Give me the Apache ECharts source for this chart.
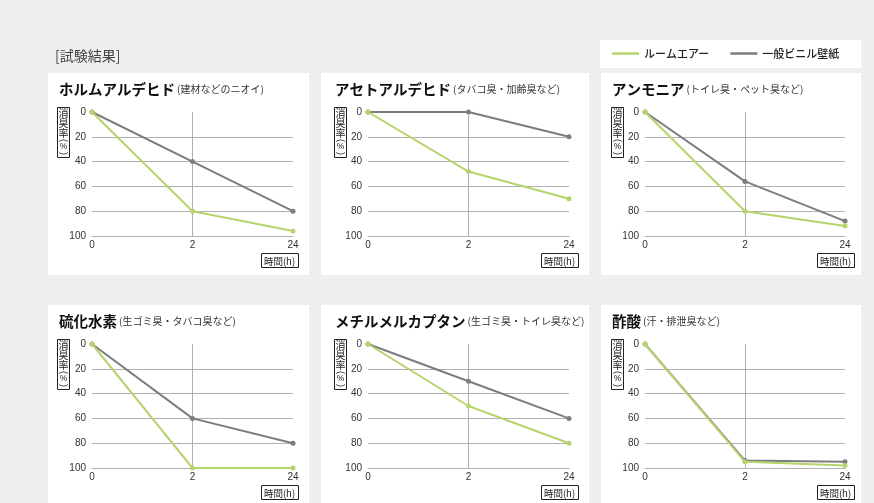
<!DOCTYPE html>
<html>
<head>
<meta charset="utf-8">
<script src="https://cdn.jsdelivr.net/npm/echarts@6/dist/echarts.min.js"></script>
<style>
html,body{margin:0;padding:0;background:#efefef;}
#c{width:874px;height:503px;}
</style>
</head>
<body>
<div id="c"></div>
<script>
// ---- data ----
const categories = ['0', '2', '24'];
const titles = ['ホルムアルデヒド', 'アセトアルデヒド', 'アンモニア', '硫化水素', 'メチルメルカプタン', '酢酸'];
const subtitles = ['(建材などのニオイ)', '(タバコ臭・加齢臭など)', '(トイレ臭・ペット臭など)', '(生ゴミ臭・タバコ臭など)', '(生ゴミ臭・トイレ臭など)', '(汗・排泄臭など)'];
const roomAir = [[0, 80, 96], [0, 48, 70], [0, 80, 92], [0, 100, 100], [0, 50, 80], [0, 95, 98]];
const vinyl = [[0, 40, 80], [0, 0, 20], [0, 56, 88], [0, 60, 80], [0, 30, 60], [0, 94, 95]];
const seriesNames = ['ルームエアー', '一般ビニル壁紙'];
const yMin = 0, yMax = 100, yStep = 20;
const yAxisNameMain = '消臭率';
const yAxisNameUnit = ['(', '%', ')'];
const xAxisName = '時間(h)';
const heading = '[試験結果]';

// ---- layout ----
const cols = [
  {pl: 48, pr: 309, gl: 92, gr: 293, tx: 59, ybx: 57, xbr: 298},
  {pl: 321, pr: 589, gl: 368, gr: 569, tx: 335, ybx: 334, xbr: 578},
  {pl: 601, pr: 861, gl: 645, gr: 845, tx: 612, ybx: 611, xbr: 854}
];
const rows = [{pt: 73, pb: 275}, {pt: 305, pb: 530}];
const GREEN = '#b6d46c', GRAY = '#7d7d7d', GRID = '#b0b0b0';
const FONT = '"Liberation Sans", "Noto Sans CJK JP", sans-serif';
const JFONT = '"Noto Sans CJK JP", sans-serif';

const grids = [], xAxes = [], yAxes = [], series = [], graphics = [];

// heading + legend box
graphics.push({type: 'text', left: 55, top: 49, z: 5,
  style: {text: heading, font: '14px ' + JFONT, fill: '#444'}});
graphics.push({type: 'rect', z: -1, shape: {x: 600, y: 40, width: 261, height: 28}, style: {fill: '#fff'}});

for (let i = 0; i < 6; i++) {
  const c = cols[i % 3], r = rows[Math.floor(i / 3)];
  graphics.push({type: 'rect', z: -1, shape: {x: c.pl, y: r.pt, width: c.pr - c.pl, height: r.pb - r.pt}, style: {fill: '#fff'}});
  graphics.push({type: 'text', z: 5, x: c.tx, y: r.pt + 16,
    style: {text: '{a|' + titles[i] + '}{b|' + subtitles[i] + '}', verticalAlign: 'middle',
      rich: {a: {fontSize: 14.5, fontWeight: 'bold', fontFamily: JFONT, fill: '#111'},
             b: {fontSize: 10, fontFamily: JFONT, fill: '#333', padding: [0, 0, 0, 2]}}}});
  // y axis name box
  const bx = c.ybx + 6.5;
  graphics.push({type: 'rect', z: 5, shape: {x: c.ybx + 0.5, y: r.pt + 34.5, width: 12, height: 50},
    style: {fill: '#fff', stroke: '#222', lineWidth: 1}});
  graphics.push({type: 'text', z: 6, x: bx, y: r.pt + 35,
    style: {text: yAxisNameMain.split('').join('\n'), align: 'center', verticalAlign: 'top',
      font: '10px ' + JFONT, lineHeight: 10, fill: '#222'}});
  graphics.push({type: 'text', z: 6, x: bx, y: r.pt + 67.5, rotation: -Math.PI / 2,
    style: {text: yAxisNameUnit[0], align: 'center', verticalAlign: 'middle', font: '9px ' + FONT, fill: '#222'}});
  graphics.push({type: 'text', z: 6, x: bx, y: r.pt + 74,
    style: {text: yAxisNameUnit[1], align: 'center', verticalAlign: 'middle', font: '8.5px ' + FONT, fill: '#222'}});
  graphics.push({type: 'text', z: 6, x: bx, y: r.pt + 80.5, rotation: -Math.PI / 2,
    style: {text: yAxisNameUnit[2], align: 'center', verticalAlign: 'middle', font: '9px ' + FONT, fill: '#222'}});
  // x axis name box
  graphics.push({type: 'rect', z: 5, shape: {x: c.xbr - 37 + 0.5, y: r.pt + 180.5, width: 37, height: 14},
    style: {fill: '#fff', stroke: '#222', lineWidth: 1}});
  graphics.push({type: 'text', z: 6, x: c.xbr - 18.5, y: r.pt + 188,
    style: {text: xAxisName, align: 'center', verticalAlign: 'middle', font: '9.5px ' + JFONT, fill: '#222'}});

  grids.push({left: c.gl, width: c.gr - c.gl, top: r.pt + 39, height: 124});
  xAxes.push({gridIndex: i, type: 'category', data: categories, boundaryGap: false,
    axisLine: {show: true, onZero: false, lineStyle: {color: GRID, width: 1}},
    axisTick: {show: false},
    axisLabel: {margin: 4, fontSize: 10, color: '#333', fontFamily: FONT},
    splitLine: {show: true, interval: (idx) => idx === 1, lineStyle: {color: GRID, width: 1}}});
  yAxes.push({gridIndex: i, type: 'value', inverse: true, min: yMin, max: yMax, interval: yStep,
    axisLine: {show: false}, axisTick: {show: false},
    axisLabel: {margin: 6, fontSize: 10, color: '#333', fontFamily: FONT},
    splitLine: {show: true, lineStyle: {color: ['rgba(0,0,0,0)', GRID, GRID, GRID, GRID, GRID], width: 1}}});
  series.push({name: seriesNames[1], type: 'line', xAxisIndex: i, yAxisIndex: i, data: vinyl[i],
    symbol: 'circle', symbolSize: 5, itemStyle: {color: GRAY}, lineStyle: {color: GRAY, width: 2}, z: 3});
  series.push({name: seriesNames[0], type: 'line', xAxisIndex: i, yAxisIndex: i, data: roomAir[i],
    symbol: 'circle', symbolSize: 5, itemStyle: {color: GREEN}, lineStyle: {color: GREEN, width: 2}, z: 4});
}

const chart = echarts.init(document.getElementById('c'), null, {renderer: 'canvas'});
chart.setOption({
  backgroundColor: '#efefef',
  animation: false,
  legend: {data: seriesNames, left: 607, top: 43, icon: 'rect', itemWidth: 27, itemHeight: 2.5, itemGap: 21,
    textStyle: {fontSize: 11, color: '#222', fontFamily: JFONT, fontWeight: 500}},
  grid: grids, xAxis: xAxes, yAxis: yAxes, series: series, graphic: graphics
});
</script>
</body>
</html>
